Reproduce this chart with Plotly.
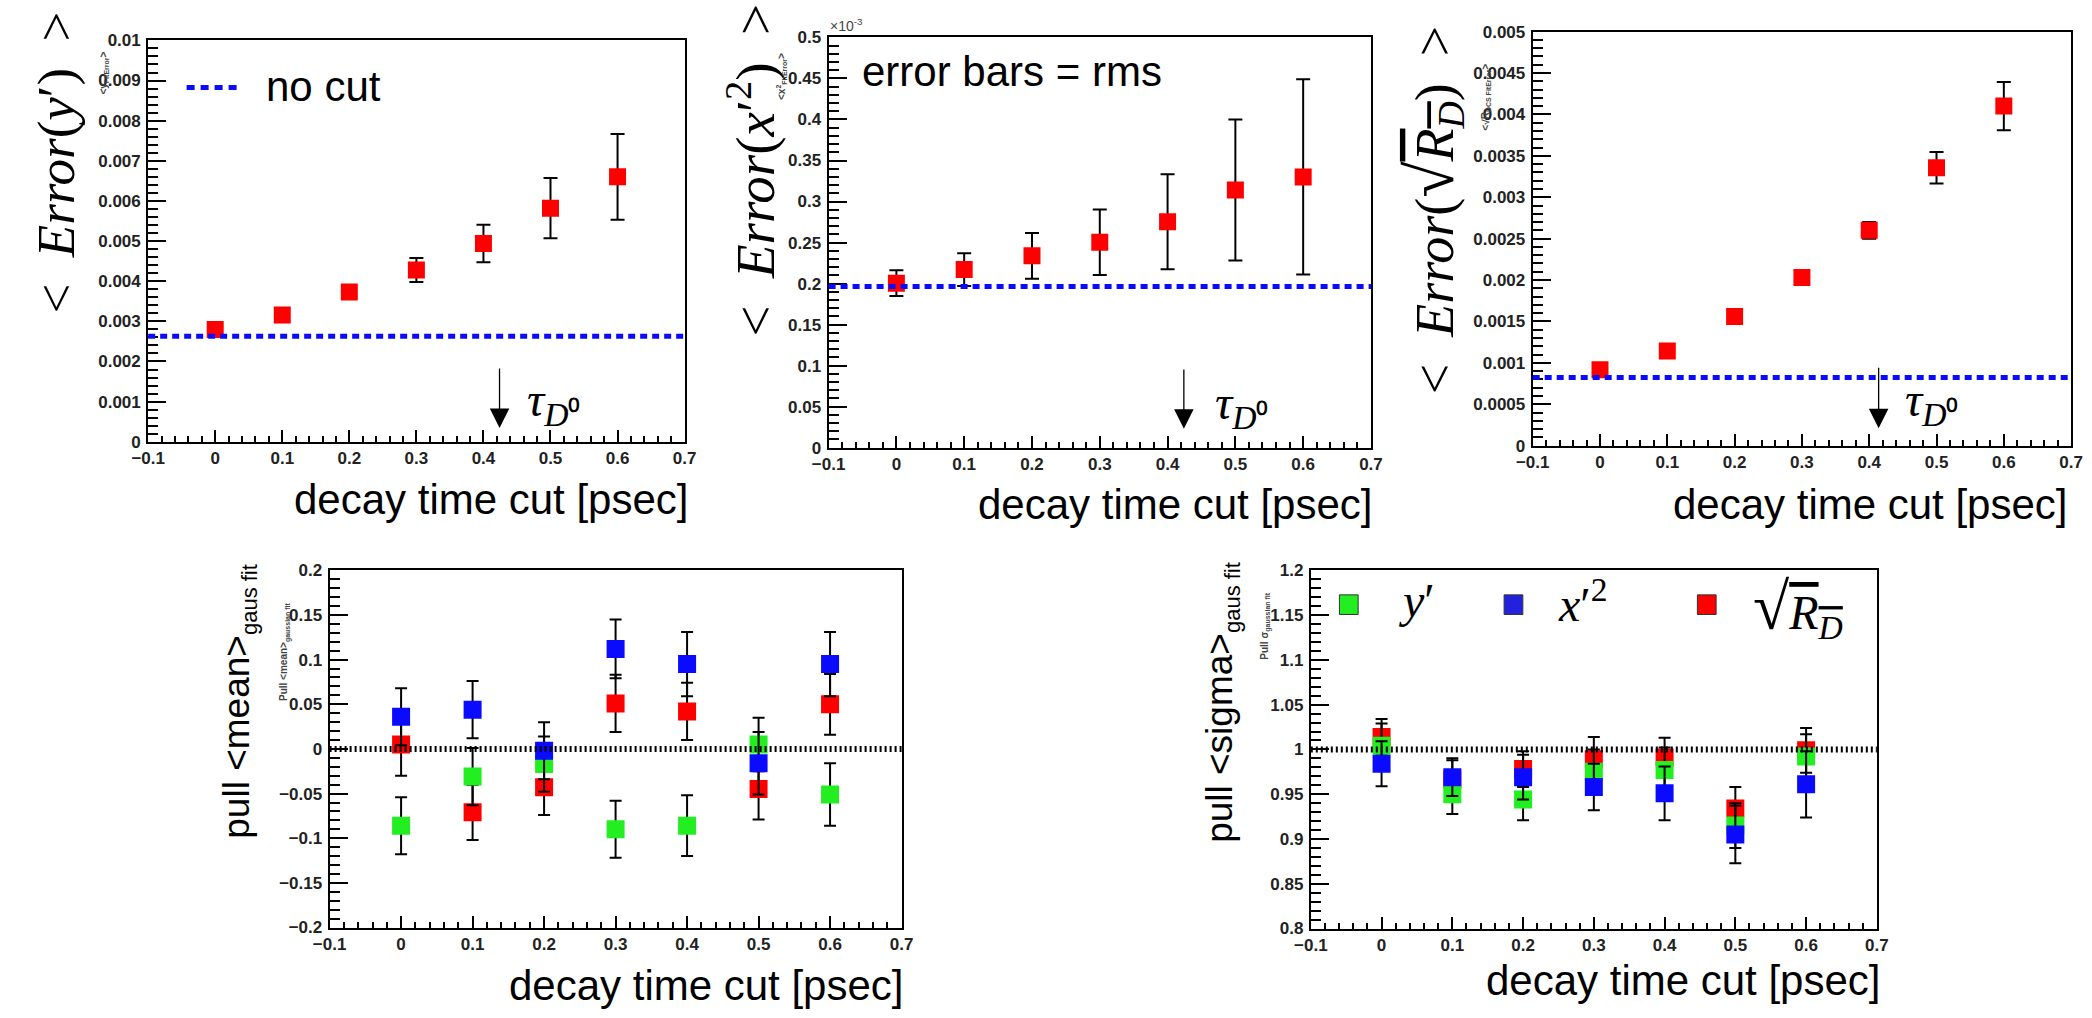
import plotly.graph_objects as go

# ---------------- data ----------------
cut = [0.0, 0.1, 0.2, 0.3, 0.4, 0.5, 0.6]

# top-left: <Error(y')>
err_y = [0.00280, 0.00316, 0.00373, 0.00428, 0.00494, 0.00582, 0.00660]
err_y_rms = [0.00008, 0.00012, 0.00015, 0.00030, 0.00047, 0.00075, 0.00107]
nocut_y = 0.00263

# top-middle: <Error(x'^2)>  (units of 1e-3)
err_x2 = [0.2005, 0.2171, 0.2338, 0.2504, 0.2754, 0.3140, 0.3300]
err_x2_rms = [0.0156, 0.0200, 0.0280, 0.0400, 0.0580, 0.0860, 0.1190]
nocut_x2 = 0.1963

# top-right: <Error(sqrt(R_D))>
err_rd = [0.000918, 0.001143, 0.00156, 0.00203, 0.00260, 0.003355, 0.00410]
err_rd_rms = [0.00004, 0.00005, 0.00006, 0.00007, 0.00010, 0.00019, 0.00029]
nocut_rd = 0.000824

# bottom-left: pull <mean>
mean_y = [-0.086, -0.031, -0.017, -0.090, -0.086, 0.005, -0.051]
mean_y_err = [0.032, 0.032, 0.031, 0.032, 0.034, 0.030, 0.035]
mean_x2 = [0.036, 0.044, -0.002, 0.112, 0.095, -0.016, 0.095]
mean_x2_err = [0.032, 0.032, 0.032, 0.033, 0.036, 0.035, 0.036]
mean_rd = [0.005, -0.071, -0.043, 0.051, 0.042, -0.045, 0.050]
mean_rd_err = [0.035, 0.031, 0.031, 0.032, 0.032, 0.034, 0.034]
ref_mean = 0.0

# bottom-right: pull <sigma>
sig_y = [1.004, 0.950, 0.944, 0.975, 0.977, 0.915, 0.992]
sig_y_err = [0.025, 0.022, 0.023, 0.025, 0.025, 0.025, 0.025]
sig_x2 = [0.984, 0.969, 0.969, 0.958, 0.951, 0.905, 0.961]
sig_x2_err = [0.025, 0.021, 0.025, 0.026, 0.030, 0.032, 0.037]
sig_rd = [1.014, 0.966, 0.978, 0.989, 0.991, 0.934, 0.999]
sig_rd_err = [0.020, 0.022, 0.020, 0.025, 0.022, 0.024, 0.025]
ref_sigma = 1.0

# tau_D0 arrows (x, top, tip) per top panel
tau_x = [0.424, 0.424, 0.414]
tau_top = [0.00186, 0.097, 0.00096]
tau_tip = [0.00034, 0.023, 0.00021]

x_range = [-0.1, 0.7]
y_ranges = [[0, 0.01], [0, 0.5], [0, 0.005], [-0.2, 0.2], [0.8, 1.2]]
y_dticks = [0.001, 0.05, 0.0005, 0.05, 0.05]

# ---------------- layout helpers ----------------
W, H = 2092, 1018
def px(v):
    return v / W
def py(v):
    return 1 - v / H

frames = [  # left, right, top, bottom in pixels
    (133, 677, 32, 441),
    (823, 1373, 29, 447),
    (1537, 2083, 23, 445),
    (317, 897, 572, 936),
    (1312, 1886, 572, 937),
]

RED = "#ff0000"
GREEN = "#22ee22"
BLUE = "#0a0aff"
SANS = "Liberation Sans, Arial, sans-serif"
SERIF = "Liberation Serif, Times New Roman, serif"

fig = go.Figure()

def err(arr, w=7):
    return dict(type="data", array=arr, color="black", thickness=2, width=w, visible=True)

# top panels
top_sets = [(err_y, err_y_rms), (err_x2, err_x2_rms), (err_rd, err_rd_rms)]
for i, (vals, rms) in enumerate(top_sets):
    sfx = "" if i == 0 else str(i + 1)
    fig.add_trace(go.Scatter(
        x=cut, y=vals, mode="markers", error_y=err(rms),
        marker=dict(symbol="square", size=17, color=RED, line=dict(width=0)),
        xaxis="x" + sfx, yaxis="y" + sfx, showlegend=False))

# bottom-left
for vals, e, col in [(mean_rd, mean_rd_err, RED), (mean_y, mean_y_err, GREEN), (mean_x2, mean_x2_err, BLUE)]:
    fig.add_trace(go.Scatter(
        x=cut, y=vals, mode="markers", error_y=err(e, 6),
        marker=dict(symbol="square", size=18, color=col, line=dict(width=0)),
        xaxis="x4", yaxis="y4", showlegend=False))
# bottom-right
for vals, e, col in [(sig_rd, sig_rd_err, RED), (sig_y, sig_y_err, GREEN), (sig_x2, sig_x2_err, BLUE)]:
    fig.add_trace(go.Scatter(
        x=cut, y=vals, mode="markers", error_y=err(e, 6),
        marker=dict(symbol="square", size=18, color=col, line=dict(width=0)),
        xaxis="x5", yaxis="y5", showlegend=False))

tickfont = dict(family=SANS, size=17, color="#222", weight="bold")
layout_axes = {}
for i, (l, r, t, b) in enumerate(frames):
    sfx = "" if i == 0 else str(i + 1)
    layout_axes["xaxis" + sfx] = dict(
        domain=[px(l), px(r)], anchor="y" + sfx, range=x_range,
        tick0=0, dtick=0.1, ticks="inside", ticklen=12, tickwidth=2, tickcolor="black",
        minor=dict(tick0=0, dtick=0.02, ticks="inside", ticklen=6, tickwidth=1.5, tickcolor="black"),
        showline=True, linewidth=2, linecolor="black", mirror=True,
        showgrid=False, zeroline=False, tickfont=tickfont, exponentformat="none")
    yr = y_ranges[i]
    layout_axes["yaxis" + sfx] = dict(
        domain=[py(b), py(t)], anchor="x" + sfx, range=yr,
        tick0=yr[0], dtick=y_dticks[i], ticks="inside", ticklen=18, tickwidth=2, tickcolor="black",
        minor=dict(tick0=yr[0], dtick=y_dticks[i] / 5, ticks="inside", ticklen=10, tickwidth=1.5, tickcolor="black"),
        showline=True, linewidth=2, linecolor="black", mirror=True,
        showgrid=False, zeroline=False, tickfont=tickfont, exponentformat="none",
        ticklabelstandoff=2)

shapes = []
# no-cut reference lines (blue dashed)
for i, v in enumerate([nocut_y, nocut_x2, nocut_rd]):
    sfx = "" if i == 0 else str(i + 1)
    shapes.append(dict(type="line", xref="x" + sfx + " domain", x0=0, x1=1,
                       yref="y" + sfx, y0=v, y1=v,
                       line=dict(color=BLUE, width=5, dash="7px,5px")))
# pull reference lines (black dotted)
shapes.append(dict(type="line", xref="x4 domain", x0=0, x1=1, yref="y4", y0=ref_mean, y1=ref_mean,
                   line=dict(color="black", width=6, dash="2px,3px")))
shapes.append(dict(type="line", xref="x5 domain", x0=0, x1=1, yref="y5", y0=ref_sigma, y1=ref_sigma,
                   line=dict(color="black", width=6, dash="2px,3px")))
# "no cut" legend sample
shapes.append(dict(type="line", xref="paper", yref="paper", x0=px(172), x1=px(227), y0=py(80), y1=py(80),
                   line=dict(color=BLUE, width=5, dash="8px,6px")))
# bottom-right legend squares
for l, col in [(1341, GREEN), (1508, "#2222dd"), (1704, RED)]:
    shapes.append(dict(type="rect", xref="paper", yref="paper",
                       x0=px(l), x1=px(l + 19), y0=py(617), y1=py(597),
                       fillcolor=col, line=dict(color="#333", width=1)))

ann = []
def add_text(text, x, y, size, family=SANS, angle=0, xanchor="center", yanchor="middle", color="black", weight="normal"):
    ann.append(dict(text=text, x=px(x), y=py(y), xref="paper", yref="paper", showarrow=False,
                    textangle=angle, xanchor=xanchor, yanchor=yanchor,
                    font=dict(family=family, size=size, color=color, weight=weight)))

OL = "<span style='text-decoration:overline'><i>R</i><sub><i>D</i></sub></span>"
ROOT = "<span style='font-size:66px'>√</span>"
# big y titles (math)
add_text("&lt;  <i>Error</i>(<i>y</i>′)  &gt;", 40, 156, 53, SERIF, -90)
add_text("&lt;  <i>Error</i>(<i>x</i>′<sup>2</sup>)  &gt;", 745, 164, 55, SERIF, -90)
add_text("&lt;  <i>Error</i>(" + ROOT + OL + ")  &gt;", 1436, 205, 54, SERIF, -90)
add_text("pull &lt;mean&gt;<sub><span style='font-size:22px'>gaus fit</span></sub>", 225, 705, 37, SANS, -90)
add_text("pull &lt;sigma&gt;<sub><span style='font-size:22px'>gaus fit</span></sub>", 1222, 707, 37, SANS, -90)

# x titles
for xe, ye in [(683, 500), (1377, 505), (2082, 505), (902, 995), (1892, 990)]:
    add_text("decay time cut [psec]", xe, ye, 42, SANS, 0, xanchor="right")

# small ROOT axis titles
add_text("&lt;y<sub>FitError</sub>&gt;", 88, 65, 10, SANS, -90, color="#444", weight="bold")
add_text("&lt;x<sup>2</sup><sub>FitError</sub>&gt;", 775, 69, 10, SANS, -90, color="#444", weight="bold")
add_text("&lt;√R<sub>DCS FitError</sub>&gt;", 1490, 90, 10, SANS, -90, color="#444", weight="bold")
add_text("Pull &lt;mean&gt;<sub>gaussian fit</sub>", 272, 655, 10, SANS, -90, color="#444", weight="bold")
add_text("Pull σ<sub>gaussian fit</sub>", 1266, 628, 10, SANS, -90, color="#444", weight="bold")
add_text("×10<sup>-3</sup>", 822, 16, 14, SANS, 0, xanchor="left", color="#444")

# legends / notes
add_text("no cut", 250, 79, 42, SANS, 0, xanchor="left")
add_text("error bars = rms", 855, 64, 42, SANS, 0, xanchor="left")
add_text("<i>y</i>′", 1398, 603, 48, SERIF, 0, xanchor="left")
add_text("<i>x</i>′<sup>2</sup>", 1561, 603, 48, SERIF, 0, xanchor="left")
add_text(ROOT + OL, 1758, 610, 48, SERIF, 0, xanchor="left")

# tau labels
for xl, yl in [(515, 402), (1213, 405), (1913, 402)]:
    add_text("<i>τ</i><sub><i>D</i>⁰</sub>", xl, yl, 48, SERIF, 0, xanchor="left")

# tau arrows
for i in range(3):
    sfx = "" if i == 0 else str(i + 1)
    ann.append(dict(x=tau_x[i], y=tau_tip[i], ax=tau_x[i], ay=tau_top[i],
                    xref="x" + sfx, yref="y" + sfx, axref="x" + sfx, ayref="y" + sfx,
                    text="", showarrow=True, arrowhead=2, arrowsize=3, arrowwidth=1.3,
                    arrowcolor="black", standoff=0, startstandoff=0))

fig.update_layout(
    width=W, height=H, margin=dict(l=0, r=0, t=0, b=0),
    paper_bgcolor="white", plot_bgcolor="white",
    showlegend=False, shapes=shapes, annotations=ann, **layout_axes)

fig.write_html("out.html", include_plotlyjs=True, config={"displayModeBar": False},
               post_script="document.body.style.margin='0px';")
